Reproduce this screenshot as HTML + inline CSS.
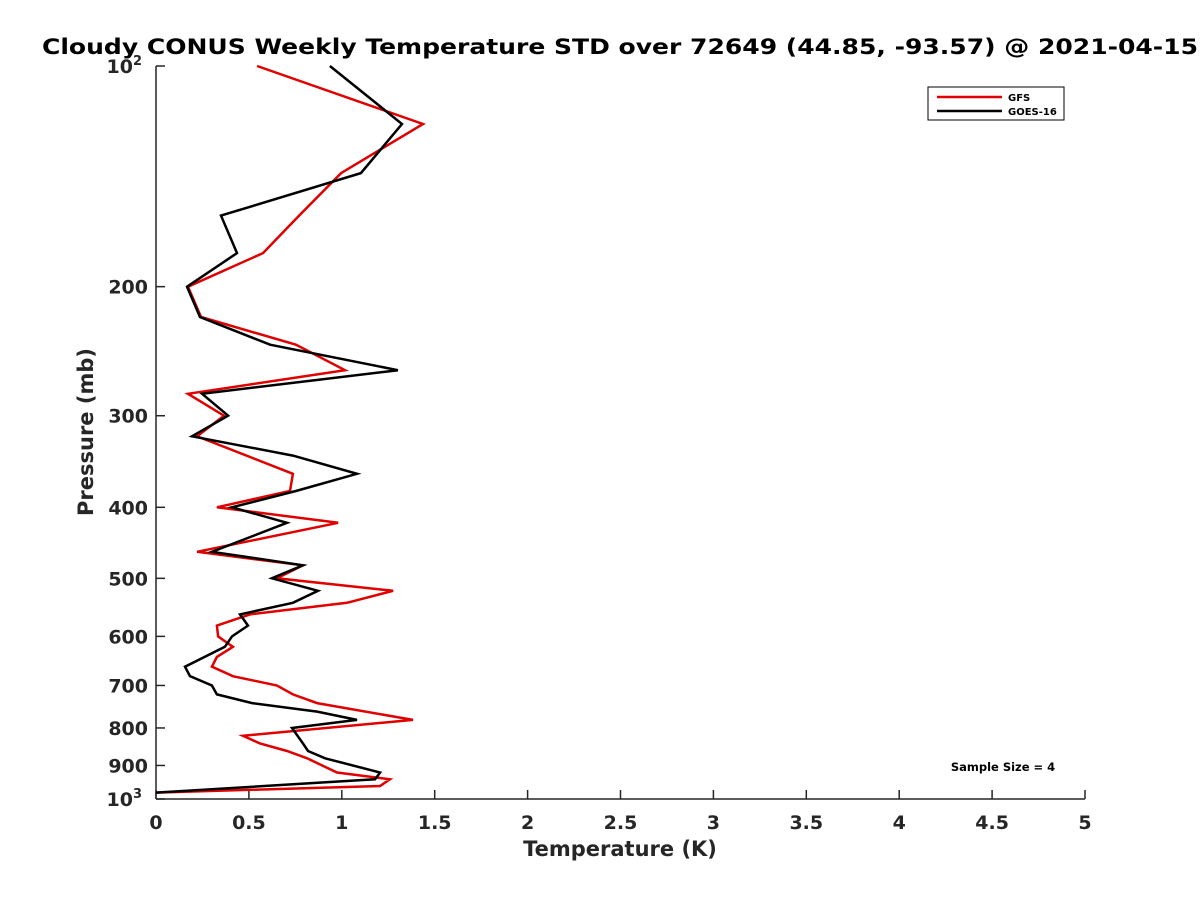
<!DOCTYPE html>
<html><head><meta charset="utf-8"><style>
body{margin:0;background:#fff;}
svg text{font-family:"DejaVu Sans","Liberation Sans",sans-serif;font-weight:bold;}
</style></head><body>
<svg id="chart" width="1200" height="900" xmlns="http://www.w3.org/2000/svg">
<rect width="1200" height="900" fill="#fff"/>
<text x="620" y="54" font-size="21" text-anchor="middle" fill="#000" textLength="1156" lengthAdjust="spacingAndGlyphs">Cloudy CONUS Weekly Temperature STD over 72649 (44.85, -93.57) @ 2021-04-15</text>
<g id="axes"></g>
<g id="series"></g>
<text x="620" y="856" font-size="21" text-anchor="middle" fill="#262626">Temperature (K)</text>
<text transform="translate(93,432) rotate(-90)" font-size="21" text-anchor="middle" fill="#262626">Pressure (mb)</text>
<g>
<rect x="928" y="87" width="136" height="33" fill="#fff" stroke="#000" stroke-width="1"/>
<line x1="937" y1="97" x2="1002" y2="97" stroke="#e00000" stroke-width="2.5"/>
<text x="1008" y="101" font-size="10" fill="#000">GFS</text>
<line x1="937" y1="111" x2="1002" y2="111" stroke="#000" stroke-width="2.5"/>
<text x="1008" y="115" font-size="10" fill="#000">GOES-16</text>
</g>
<text x="1003" y="771" font-size="11.5" text-anchor="middle" fill="#000">Sample Size = 4</text>
</svg>
<script>
const xTicks=[0,0.5,1,1.5,2,2.5,3,3.5,4,4.5,5];
const xTickLabels=["0","0.5","1","1.5","2","2.5","3","3.5","4","4.5","5"];
const yTicks=[200,300,400,500,600,700,800,900];
const gfsPressure=[100,120,140,160,180,200,220,240,260,280,300,320,360,380,400,420,460,480,500,520,540,560,580,600,620,640,660,680,700,720,740,780,820,840,860,880,920,940,960,980];
const gfsTemp=[0.544,1.437,0.996,0.77,0.576,0.172,0.242,0.753,1.017,0.172,0.366,0.221,0.737,0.721,0.328,0.98,0.221,0.79,0.651,1.276,1.028,0.506,0.328,0.334,0.414,0.328,0.301,0.414,0.651,0.737,0.867,1.383,0.468,0.56,0.705,0.813,0.974,1.259,1.206,0];
const goesPressure=[100,120,140,160,180,200,220,240,260,280,300,320,340,360,380,400,420,460,480,500,520,540,560,580,600,620,660,680,700,720,740,760,780,800,840,860,880,920,940,980];
const goesTemp=[0.936,1.324,1.103,0.35,0.436,0.167,0.237,0.614,1.302,0.248,0.388,0.194,0.737,1.082,0.753,0.409,0.705,0.301,0.791,0.624,0.872,0.737,0.452,0.495,0.409,0.371,0.156,0.183,0.301,0.328,0.517,0.867,1.082,0.732,0.791,0.818,0.91,1.206,1.179,0];

const X0=156,X1=1085,Y0=66,Y1=799;
function xs(v){return X0+(v-0)/(5-0)*(X1-X0);}
function ys(p){return Y0+(Math.log10(p)-2)*(Y1-Y0);}
const NS="http://www.w3.org/2000/svg";
function mk(tag,attrs,parent){const e=document.createElementNS(NS,tag);for(const k in attrs)e.setAttribute(k,attrs[k]);parent.appendChild(e);return e;}
const axes=document.getElementById('axes');
const yAxis=mk('line',{x1:X0,y1:Y0,x2:X0,y2:Y1,stroke:'#262626','stroke-width':1.5},axes);


const xAxis=mk('line',{x1:X0,y1:Y1,x2:X1,y2:Y1,stroke:'#262626','stroke-width':1.5},axes);


xTicks.forEach((v,i)=>{
  const x=xs(v);
  const t=mk('line',{x1:x,y1:Y1,x2:x,y2:Y1-9,stroke:'#262626','stroke-width':1.5},axes);
  
  
  const l=mk('text',{x:x,y:Y1+30,'font-size':19,'text-anchor':'middle',fill:'#262626'},axes);
  l.textContent=xTickLabels[i];
  
  
});
[100,...yTicks,1000].forEach(p=>{
  const y=ys(p);
  const t=mk('line',{x1:X0,y1:y,x2:X0+9,y2:y,stroke:'#262626','stroke-width':1.5},axes);
  
  
  const l=mk('text',{x:X0-8,y:y+7,'font-size':19,'text-anchor':'end',fill:'#262626'},axes);
  if(p===100||p===1000){
    l.setAttribute('x',X0-14);
    l.textContent='10';
    const s=mk('tspan',{dy:-8,'font-size':13},l);
    s.textContent=p===100?'2':'3';
  } else l.textContent=String(p);
  
  
});
const series=document.getElementById('series');
function drawLine(pr,tv,color,name){
  const pts=pr.map((p,i)=>xs(tv[i]).toFixed(1)+','+ys(p).toFixed(1)).join(' ');
  const pl=mk('polyline',{points:pts,fill:'none',stroke:color,'stroke-width':2.5,'stroke-linejoin':'miter'},series);
  
  
}
drawLine(gfsPressure,gfsTemp,'#e00000','gfs-line');
drawLine(goesPressure,goesTemp,'#000000','goes16-line');
</script>
</body></html>
